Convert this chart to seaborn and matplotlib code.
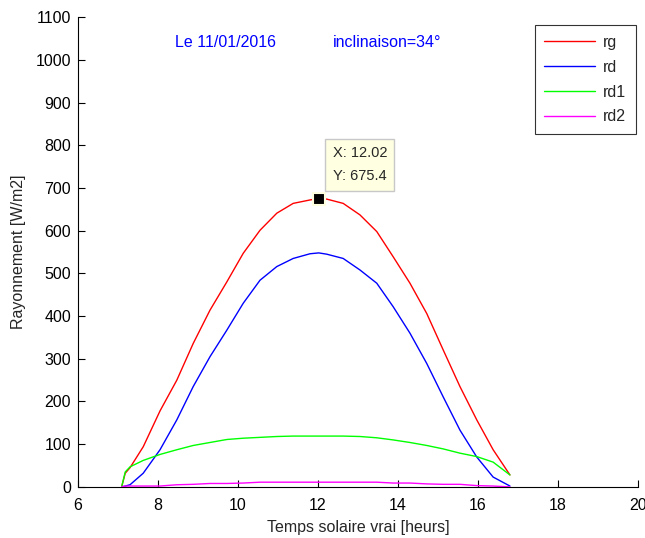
import numpy as np
import pandas as pd
import matplotlib.pyplot as plt
import seaborn as sns

# temps solaire vrai [h]
heures = [7.09, 7.18, 7.3, 7.63, 8.05, 8.47, 8.88, 9.3, 9.72, 10.13, 10.55, 10.97, 11.38,
          11.8, 12.02, 12.22, 12.63, 13.05, 13.47, 13.88, 14.3, 14.72, 15.13, 15.55, 15.97,
          16.38, 16.8]

rg = [0, 32, 45, 94, 178, 250, 336, 414, 480, 547, 601, 641, 664,
      672, 675.4, 674, 664, 637, 598, 539, 477, 406, 321, 235, 157, 87, 28]
rd = [0, 2, 5, 32, 87, 157, 235, 305, 367, 430, 484, 516, 535,
      546, 548, 545, 535, 508, 477, 422, 360, 289, 211, 133, 70, 23, 2]
rd1 = [0, 35, 47, 62, 76, 87, 97, 104, 111, 114, 116, 118, 119,
       119, 119, 119, 119, 118, 115, 110, 104, 97, 89, 79, 71, 58, 28]
rd2 = [0, 2, 2, 2, 2, 5, 6, 8, 8, 9, 11, 11, 11,
       11, 11, 11, 11, 11, 11, 9, 9, 7, 6, 6, 3, 2, 0]

series = {'rg': rg, 'rd': rd, 'rd1': rd1, 'rd2': rd2}
couleurs = {'rg': '#ff0000', 'rd': '#0000ff', 'rd1': '#00ff00', 'rd2': '#ff00ff'}

df = pd.DataFrame({'t': heures * 4,
                   'val': rg + rd + rd1 + rd2,
                   'serie': [k for k in series for _ in heures]})

sns.set_style('white')
plt.rcParams['font.family'] = ['Liberation Sans', 'DejaVu Sans']

fig = plt.figure(figsize=(6.45, 5.38), dpi=100)
ax = fig.add_axes([0.121, 0.095, 0.868, 0.873])

sns.lineplot(data=df, x='t', y='val', hue='serie', palette=couleurs,
             linewidth=1.0, ax=ax, legend=False)

ax.set_xlim(6, 20)
ax.set_ylim(0, 1100)
ax.set_xticks(range(6, 21, 2))
ax.set_yticks(range(0, 1101, 100))
ax.tick_params(direction='in', length=5, width=0.8, labelsize=11.5, color='black',
               labelcolor='black', left=True, bottom=True)
ax.tick_params(axis='x', pad=8)
ax.tick_params(axis='y', pad=5)
for s in ['top', 'right']:
    ax.spines[s].set_visible(False)
for s in ['left', 'bottom']:
    ax.spines[s].set_color('black')
    ax.spines[s].set_linewidth(0.8)

ax.set_xlabel('Temps solaire vrai [heurs]', fontsize=11.5, labelpad=5)
ax.set_ylabel('Rayonnement [W/m2]', fontsize=11.5, labelpad=7)

ax.text(8.43, 1041, 'Le 11/01/2016', color='#0000ff', fontsize=11.5, va='center')
ax.text(12.38, 1041, 'inclinaison=34°', color='#0000ff', fontsize=11.5, va='center')

# legende
handles = [plt.Line2D([], [], color=couleurs[k], lw=1.0) for k in series]
leg = ax.legend(handles, list(series), loc='upper right', bbox_to_anchor=(0.9964, 0.983),
                borderaxespad=0, fontsize=11.5, frameon=True, fancybox=False,
                handlelength=3.2, labelspacing=0.62, borderpad=0.6, handletextpad=0.5)
leg.get_frame().set_edgecolor('black')
leg.get_frame().set_linewidth(0.8)

# datatip
ax.plot([12.02], [675.4], marker='s', markersize=8, color='black',
        markeredgecolor='#ffffe0', markeredgewidth=1.5)
ax.annotate('X: 12.02\nY: 675.4', xy=(12.02, 675.4), xytext=(10, 11),
            textcoords='offset points', ha='left', va='bottom',
            fontsize=10.5, linespacing=1.85,
            bbox=dict(boxstyle='square,pad=0.5', fc='#ffffe1', ec='#c8c8c8', lw=1))

fig.savefig('out.png', dpi=100)
